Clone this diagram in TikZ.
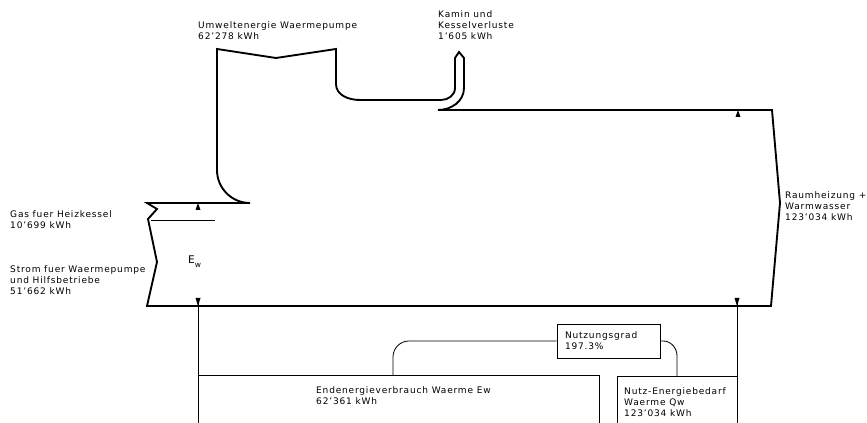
\documentclass[tikz,border=0pt]{standalone}
\usepackage{fontspec}
\setmainfont{DejaVu Sans}[LetterSpace=9]
\usepackage{tikz}
\newcommand{\labelfont}{\fontsize{7.7}{9.4}\selectfont}
\tikzset{
    band/.style={line width=1.6pt, line join=miter},
    link/.style={line width=0.7pt},
    lbl/.style={anchor=north west, inner sep=0pt, align=left, font=\labelfont},
    gradbox/.style={rectangle, draw, line width=0.7pt, minimum width=30.9mm, minimum height=10.2mm, text width=26.1mm, inner xsep=2.4mm, align=left, font=\labelfont},
    tickmark/.style={fill=black}
}

\begin{document}
\begin{tikzpicture}[x=0.3mm, y=-0.3mm]
    \useasboundingbox (0,0) rectangle (867,423);

    % Main flow band
    \draw[band] (250,203) -- (147,203) -- (157,209) -- (148,219) -- (157,262) -- (147,306)
        -- (771,306) -- (780,203) -- (772,110) -- (438,110)
        to[out=0,in=-90] (464,88) -- (464,58) -- (459,52) -- (455,58) -- (455,88)
        to[out=-90,in=0] (441,100) -- (360,100)
        to[out=180,in=-90] (336,84) -- (336,49) -- (276,58) -- (217,49) -- (217,170)
        to[out=-90,in=180] (250,203);
    \draw[link] (151,220) -- (215,220);

    % Band width ticks
    \fill[tickmark] (198,203) -- ++(-2.5,7) -- ++(5,0) -- cycle;
    \fill[tickmark] (738,110) -- ++(-2.5,7) -- ++(5,0) -- cycle;
    \fill[tickmark] (198,306) -- ++(-2.5,-8) -- ++(5,0) -- cycle;
    \fill[tickmark] (737,306) -- ++(-2.5,-8) -- ++(5,0) -- cycle;

    % Flow labels
    \node[lbl] (umwelt) at (198,21) {Umweltenergie Waermepumpe\\62'278 kWh};
    \node[lbl] (kamin) at (438,10) {Kamin und\\Kesselverluste\\1'605 kWh};
    \node[lbl] (gas) at (10,210) {Gas fuer Heizkessel\\10'699 kWh};
    \node[lbl] (strom) at (10,265) {Strom fuer Waermepumpe\\und Hilfsbetriebe\\51'662 kWh};
    \node[lbl] (raum) at (785,191) {Raumheizung +\\Warmwasser\\123'034 kWh};
    \node[lbl, font=\fontsize{9}{9}\selectfont] (ew) at (188,256) {E\raisebox{-0.6ex}{\fontsize{6.5}{6.5}\selectfont w}};

    % Energy boxes
    \coordinate (ewfoot) at (198,423);
    \coordinate (ewtop) at (198,298);
    \coordinate (qwfoot) at (737,423);
    \coordinate (qwtop) at (737,298);
    \draw[link] (ewtop) -- (ewfoot);
    \draw[link] (qwtop) -- (qwfoot);
    \draw[link] (198,375) -- (599,375) -- (599,423);
    \draw[link] (617,423) -- (617,376) -- (737,376);
    \node[lbl] (endenergie) at (316,386) {Endenergieverbrauch Waerme Ew\\62'361 kWh};
    \node[lbl] (nutzenergie) at (624,387) {Nutz-Energiebedarf\\Waerme Qw\\123'034 kWh};

    % Efficiency
    \node[gradbox] (ngrad) at (608.5,341) {Nutzungsgrad\\197.3\%};
    \coordinate (endtop) at (393,375);
    \coordinate (nutztop) at (677,376);
    \draw[link] (endtop) -- (393,357) to[out=90,in=180] (409,341) -- (ngrad.west);
    \draw[link] (ngrad.east) -- (663,341) to[out=0,in=90] (677,356) -- (nutztop);
\end{tikzpicture}
\end{document}
